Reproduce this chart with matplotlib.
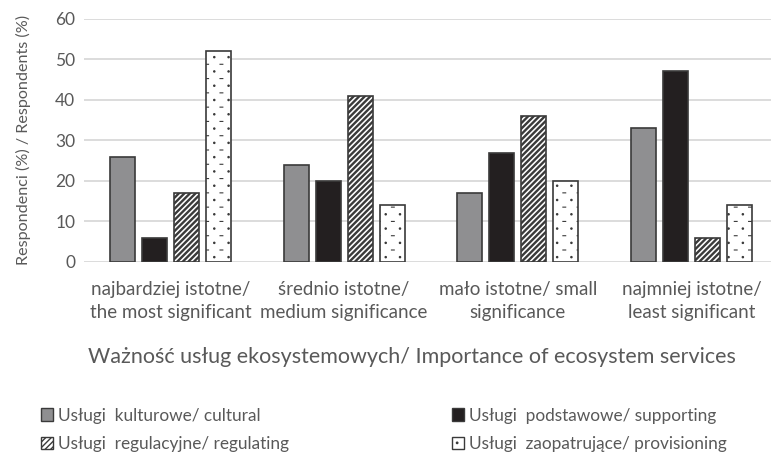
import numpy as np
import matplotlib as mpl
import matplotlib.pyplot as plt
import matplotlib.hatch as mhatch
from matplotlib.path import Path
from matplotlib.patches import Patch

plt.rcParams['font.family'] = ['Lato', 'DejaVu Sans']


# dotted pattern: small dots on a grid with short dashes between them
class DotDash(mhatch.HatchPatternBase):
    def __init__(self, hatch, density):
        self.n = hatch.count('.') * 7
        circ = Path.unit_circle()
        self.cv, self.cc = circ.vertices, circ.codes
        if self.n:
            self.num_vertices = (self.n + 1) ** 2 * len(self.cv) + self.n ** 2 * 2
        else:
            self.num_vertices = 0

    def set_vertices_and_codes(self, vertices, codes):
        n, nc = self.n, len(self.cv)
        step = 1.0 / n
        k = 0
        for i in range(n + 1):
            for j in range(n + 1):
                vertices[k:k + nc] = self.cv * 0.007 + (i * step, j * step)
                codes[k:k + nc] = self.cc
                k += nc
        for i in range(n):
            for j in range(n):
                cx, cy = (i + 0.5) * step, (j + 0.5) * step
                vertices[k] = (cx - 0.014, cy)
                vertices[k + 1] = (cx + 0.014, cy)
                codes[k] = Path.MOVETO
                codes[k + 1] = Path.LINETO
                k += 2


mhatch._hatch_types = [h for h in mhatch._hatch_types
                       if h is not mhatch.SmallFilledCircles] + [DotDash]

categories = ["najbardziej istotne/\nthe most significant",
              "średnio istotne/\nmedium significance",
              "mało istotne/ small\nsignificance",
              "najmniej istotne/\nleast significant"]
cultural = [26, 24, 17, 33]
supporting = [6, 20, 27, 47]
regulating = [17, 41, 36, 6]
provisioning = [52, 14, 20, 14]

series = [
    ("Usługi  kulturowe/ cultural", cultural, "#8f8f91", "", 1.0),
    ("Usługi  podstawowe/ supporting", supporting, "#231f20", "", 1.0),
    ("Usługi  regulacyjne/ regulating", regulating, "white", "//////", 1.7),
    ("Usługi  zaopatrujące/ provisioning", provisioning, "white", ".", 0.8),
]

txt = "#595959"
fig = plt.figure(figsize=(7.71, 4.61), dpi=100)
ax = fig.add_axes([83.5 / 771, 1 - 262 / 461, 695 / 771, (262 - 18.7) / 461])

x = np.arange(len(categories))
step = 0.184
width = 0.144
handles = []
for i, (name, vals, col, hatch, hlw) in enumerate(series):
    with mpl.rc_context({'hatch.linewidth': hlw}):
        bars = ax.bar(x + (i - 1.5) * step, vals, width, color=col, hatch=hatch,
                      edgecolor="#3a3a3a", linewidth=1.2, zorder=3)
        h = Patch(facecolor=col, hatch=hatch, edgecolor="#3a3a3a", linewidth=1.0, label=name)
    for b in list(bars) + [h]:
        if hasattr(b, "set_hatch_linewidth"):
            b.set_hatch_linewidth(hlw)
    handles.append(h)

ax.set_xlim(-0.5, 3.5)
ax.set_ylim(0, 60)
ax.set_yticks(range(0, 61, 10))
ax.grid(axis="y", color="#d9d9d9", linewidth=1.3, zorder=0)
for s in ax.spines.values():
    s.set_visible(False)
ax.tick_params(length=0, labelcolor=txt)
ax.tick_params(axis="x", pad=14, labelsize=13.5)
ax.tick_params(axis="y", pad=6, labelsize=12.5)
ax.set_xticks(x)
ax.set_xticklabels(categories, linespacing=1.4)
ax.set_ylabel("Respondenci (%) / Respondents (%)", fontsize=11.6, color=txt)
ax.yaxis.set_label_coords(-0.076, 0.5)
ax.set_xlabel("Ważność usług ekosystemowych/ Importance of ecosystem services",
              fontsize=15.5, color=txt)
ax.xaxis.set_label_coords(0.473, -0.35)

leg_kw = dict(frameon=False, fontsize=12.4, labelcolor=txt, handlelength=0.7,
              handleheight=0.7, handletextpad=0.3, labelspacing=0.72)
fig.legend(handles=[handles[0], handles[2]], loc="upper left",
           bbox_to_anchor=(25 / 771, 1 - 392 / 461), **leg_kw)
fig.legend(handles=[handles[1], handles[3]], loc="upper left",
           bbox_to_anchor=(436 / 771, 1 - 392 / 461), **leg_kw)

fig.savefig("out.png", dpi=100)
